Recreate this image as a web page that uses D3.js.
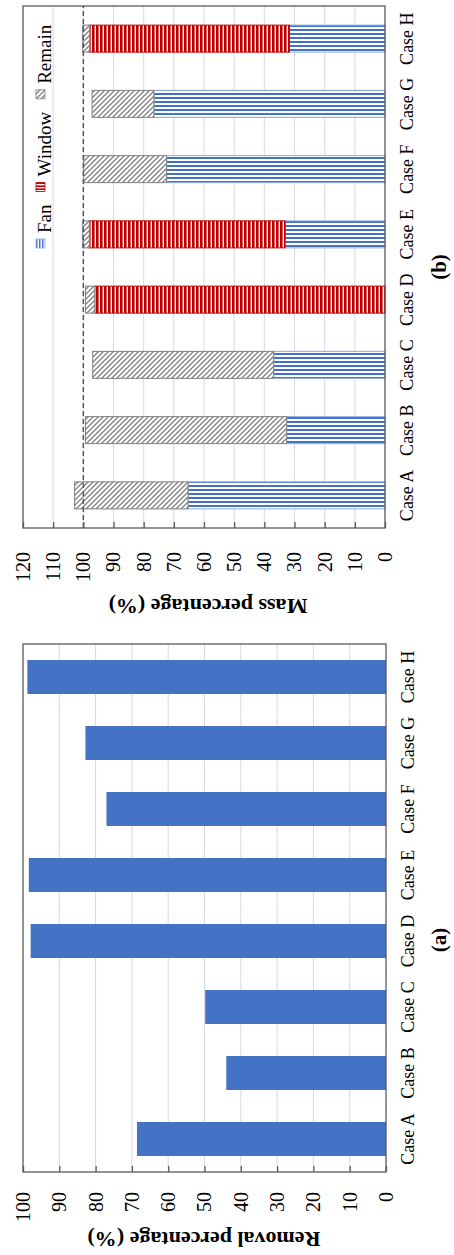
<!DOCTYPE html>
<html>
<head>
<meta charset="utf-8">
<script src="https://cdn.jsdelivr.net/npm/d3@7"></script>
<style>
body { margin: 0; background: #fff; }
svg { display: block; font-family: "Liberation Serif", "Times New Roman", serif; }
</style>
</head>
<body>
<div id="chart"></div>
<script>
// data
const cases = ['Case A', 'Case B', 'Case C', 'Case D', 'Case E', 'Case F', 'Case G', 'Case H'];
const removal = [68.6, 44.0, 49.8, 97.9, 98.4, 77.0, 82.8, 98.8];
const fanPart = [65.3, 32.6, 36.9, 0, 33.1, 72.4, 76.6, 31.7];
const windowPart = [0, 0, 0, 96.2, 64.9, 0, 0, 66.2];
const remainPart = [37.6, 66.7, 60.0, 3.1, 2.2, 27.5, 20.5, 2.3];
const seriesNames = ['Fan', 'Window', 'Remain'];
const removalTicks = [0, 10, 20, 30, 40, 50, 60, 70, 80, 90, 100];
const massTicks = [0, 10, 20, 30, 40, 50, 60, 70, 80, 90, 100, 110, 120];

const frameColor = '#595959';
const gridColor = '#d9d9d9';

// the figure is drawn upright and then turned a quarter turn counter-clockwise
const W = 1255, H = 454;
const svg = d3.select('#chart').append('svg')
    .attr('width', 454)
    .attr('height', 1255);
const g = svg.append('g').attr('transform', 'translate(0,' + W + ') rotate(-90)');

const defs = svg.append('defs');
function stripes(id, size, line, color, vertical) {
    const p = defs.append('pattern')
        .attr('id', id)
        .attr('patternUnits', 'userSpaceOnUse')
        .attr('width', size).attr('height', size);
    p.append('rect').attr('width', size).attr('height', size).attr('fill', '#fff');
    p.append('rect')
        .attr('width', vertical ? line : size)
        .attr('height', vertical ? size : line)
        .attr('fill', color);
}
stripes('fanV', 4, 2, '#4472C4', true);
stripes('winH', 4, 2.6, '#C00000', false);
stripes('fanIcon', 3, 1.5, '#4472C4', false);
stripes('winIcon', 3, 1.6, '#C00000', true);
const hatch = defs.append('pattern')
    .attr('id', 'remHatch')
    .attr('patternUnits', 'userSpaceOnUse')
    .attr('width', 5).attr('height', 5);
hatch.append('rect').attr('width', 5).attr('height', 5).attr('fill', '#fff');
hatch.append('path')
    .attr('d', 'M0,0L5,5M-1,4L1,6M4,-1L6,1')
    .attr('stroke', '#808080')
    .attr('stroke-width', 1.3);

const fills = { Fan: 'url(#fanV)', Window: 'url(#winH)', Remain: 'url(#remHatch)' };
const iconFills = { Fan: 'url(#fanIcon)', Window: 'url(#winIcon)', Remain: 'url(#remHatch)' };
const strokes = { Fan: '#8FAADC', Window: '#C00000', Remain: '#808080' };

const panelA = { x0: 83, x1: 611, y0: 23, y1: 386 };
const panelB = { x0: 727, x1: 1249, y0: 23, y1: 385 };

function grid(p, y, ticks) {
    g.append('g').selectAll('line')
        .data(ticks.slice(1, -1))
        .join('line')
        .attr('x1', p.x0).attr('x2', p.x1)
        .attr('y1', d => y(d)).attr('y2', d => y(d))
        .attr('stroke', gridColor)
        .attr('stroke-width', 1);
}

function axes(p, x, y, ticks, pad) {
    g.append('rect')
        .attr('x', p.x0).attr('y', p.y0)
        .attr('width', p.x1 - p.x0).attr('height', p.y1 - p.y0)
        .attr('fill', 'none')
        .attr('stroke', frameColor)
        .attr('stroke-width', 1.3);

    const ya = g.append('g')
        .attr('transform', 'translate(' + p.x0 + ',0)')
        .call(d3.axisLeft(y).tickValues(ticks).tickSizeInner(-6).tickSizeOuter(0).tickPadding(pad));
    ya.select('.domain').remove();
    ya.selectAll('line').attr('stroke', frameColor).attr('stroke-width', 1.3);
    ya.attr('font-family', null).attr('font-size', 20);
    ya.selectAll('text').attr('fill', '#000');

    const xa = g.append('g')
        .attr('transform', 'translate(0,' + p.y1 + ')')
        .call(d3.axisBottom(x).tickSize(0).tickPadding(15));
    xa.select('.domain').remove();
    xa.attr('font-family', null).attr('font-size', 18);
    xa.selectAll('text').attr('fill', '#000');
}

// ---------- (a) removal percentage ----------
const xA = d3.scaleBand().domain(cases).range([panelA.x0, panelA.x1])
    .paddingInner(0.485).paddingOuter(0.2425);
const yA = d3.scaleLinear().domain([0, 100]).range([panelA.y1, panelA.y0]);

grid(panelA, yA, removalTicks);
g.append('g').selectAll('rect')
    .data(removal)
    .join('rect')
    .attr('x', (d, i) => xA(cases[i]))
    .attr('y', d => yA(d))
    .attr('width', xA.bandwidth())
    .attr('height', d => yA(0) - yA(d))
    .attr('fill', '#4472C4');
axes(panelA, xA, yA, removalTicks, 20);

g.append('text')
    .attr('transform', 'translate(23,204) rotate(-90)')
    .attr('text-anchor', 'middle')
    .attr('font-size', 22)
    .attr('font-weight', 'bold')
    .text('Removal percentage (%)');
g.append('text')
    .attr('x', 315).attr('y', 446)
    .attr('text-anchor', 'middle')
    .attr('font-size', 21)
    .attr('font-weight', 'bold')
    .text('(a)');

// ---------- (b) mass percentage ----------
const xB = d3.scaleBand().domain(cases).range([panelB.x0, panelB.x1])
    .paddingInner(0.586).paddingOuter(0.293);
const yB = d3.scaleLinear().domain([0, 120]).range([panelB.y1, panelB.y0]);

grid(panelB, yB, massTicks);

const rows = cases.map((c, i) => ({ name: c, Fan: fanPart[i], Window: windowPart[i], Remain: remainPart[i] }));
const stacked = d3.stack().keys(seriesNames)(rows);

g.append('g').selectAll('g')
    .data(stacked)
    .join('g')
    .attr('fill', d => fills[d.key])
    .attr('stroke', d => strokes[d.key])
    .attr('stroke-width', 1)
    .selectAll('rect')
    .data(d => d.filter(s => s[1] - s[0] > 0))
    .join('rect')
    .attr('x', d => xB(d.data.name))
    .attr('y', d => yB(d[1]))
    .attr('width', xB.bandwidth())
    .attr('height', d => yB(d[0]) - yB(d[1]));

g.append('line')
    .attr('x1', panelB.x0).attr('x2', panelB.x1)
    .attr('y1', yB(100)).attr('y2', yB(100))
    .attr('stroke', frameColor)
    .attr('stroke-width', 1.5)
    .attr('stroke-dasharray', '5,3');

axes(panelB, xB, yB, massTicks, 24);

g.append('text')
    .attr('transform', 'translate(656,208) rotate(-90)')
    .attr('text-anchor', 'middle')
    .attr('font-size', 22)
    .attr('font-weight', 'bold')
    .text('Mass percentage (%)');
g.append('text')
    .attr('x', (panelB.x0 + panelB.x1) / 2).attr('y', 446)
    .attr('text-anchor', 'middle')
    .attr('font-size', 21)
    .attr('font-weight', 'bold')
    .text('(b)');

// legend
const legend = g.append('g').attr('font-size', 19);
let lx = 1007;
seriesNames.forEach(function(name) {
    legend.append('rect')
        .attr('x', lx).attr('y', 36)
        .attr('width', 9).attr('height', 9)
        .attr('fill', iconFills[name])
        .attr('stroke', strokes[name])
        .attr('stroke-width', 0.8);
    const t = legend.append('text')
        .attr('x', lx + 15).attr('y', 51)
        .text(name);
    lx += 15 + t.node().getComputedTextLength() + 13;
});
</script>
</body>
</html>
